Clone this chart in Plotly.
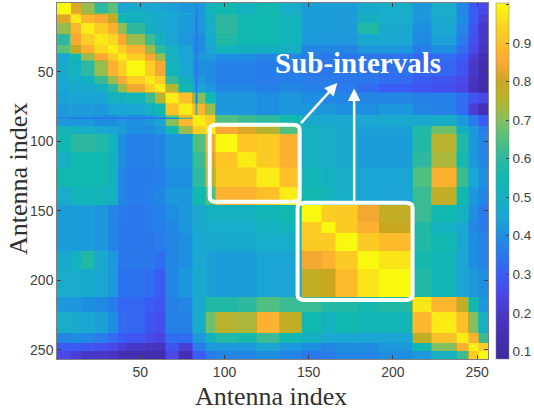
import numpy as np
import plotly.graph_objects as go

segment_ends = [8,14,22,30,36,41,52,58,64,72,80,88,94,107,118,132,145,157,165,178,191,211,222,237,244,250,256]

upper_rows = [
 [1.0,.82,.72,.6,.66,.45,.47,.46,.45,.44,.42,.42,.52,.55,.5,.55,.48,.43,.43,.43,.47,.48,.42,.48,.38,.3,.25],
 [.97,.88,.85,.8,.55,.5,.48,.47,.45,.43,.42,.5,.6,.55,.55,.52,.43,.43,.43,.5,.48,.42,.47,.4,.3,.22],
 [.98,.93,.87,.72,.6,.5,.47,.45,.43,.42,.48,.6,.55,.55,.52,.43,.43,.43,.58,.47,.4,.46,.38,.28,.2],
 [.97,.95,.85,.72,.62,.5,.45,.42,.4,.47,.58,.55,.55,.52,.42,.42,.42,.47,.46,.39,.44,.36,.27,.2],
 [.98,.93,.87,.72,.6,.5,.45,.4,.45,.52,.5,.5,.5,.38,.38,.38,.42,.42,.36,.4,.33,.25,.18],
 [.98,.93,.85,.72,.5,.45,.42,.43,.4,.4,.38,.38,.36,.35,.35,.35,.34,.32,.33,.3,.22,.15],
 [1.0,.93,.84,.52,.46,.4,.4,.37,.37,.36,.36,.35,.35,.35,.35,.34,.32,.32,.28,.2,.13],
 [.97,.93,.62,.5,.42,.4,.37,.37,.36,.37,.36,.36,.35,.35,.33,.3,.28,.25,.18,.12],
 [.98,.75,.55,.45,.42,.38,.38,.37,.38,.37,.37,.36,.33,.3,.28,.27,.24,.17,.12],
 [.98,.9,.7,.55,.42,.42,.4,.42,.4,.38,.38,.38,.38,.37,.37,.33,.28,.25],
 [.98,.88,.72,.42,.42,.4,.42,.42,.42,.4,.4,.42,.38,.37,.33,.22,.15],
 [.98,.93,.65,.62,.6,.55,.47,.47,.46,.46,.47,.47,.48,.42,.36,.3],
 [.98,.85,.82,.75,.65,.5,.48,.47,.44,.44,.58,.68,.5,.42,.36],
 [1.0,.91,.92,.87,.5,.48,.47,.43,.43,.58,.76,.58,.42,.38],
 [.98,.92,.87,.5,.48,.47,.43,.43,.6,.74,.56,.42,.38],
 [.98,.9,.53,.5,.48,.45,.45,.65,.87,.62,.45,.4],
 [.98,.55,.52,.48,.45,.45,.62,.78,.55,.42,.38],
 [1.0,.93,.92,.84,.78,.62,.55,.5,.4,.35],
 [1.0,.92,.87,.8,.58,.5,.46,.38,.36],
 [1.0,.92,.89,.58,.55,.46,.4,.38],
 [1.0,.97,.56,.53,.45,.4,.38],
 [1.0,.58,.53,.45,.42,.4],
 [.97,.88,.78,.55,.42],
 [.98,.9,.7,.5],
 [.98,.87,.62],
 [.98,.93],
 [1.0],
]

# thin stripes visible in the picture: antenna index, then its value across the first segments
stripe_83 = [.38,.34,.34,.34,.33,.34,.34,.34,.34,.38,.62]
stripe_8 = [1.0,.86,.74,.7,.7,.58,.56,.52,.5,.48,.46]

tick_vals = [50,100,150,200,250]
cbar_vals = [.1,.2,.3,.4,.5,.6,.7,.8,.9,1]
cbar_text = ["0.1","0.2","0.3","0.4","0.5","0.6","0.7","0.8","0.9","1"]

zmin, zmax = .08, 1.004
color_vals = [.08,.15,.2,.25,.3,.35,.4,.45,.5,.55,.6,.65,.7,.75,.8,.85,.9,.95,1.004]
color_hex = ["#3e2aa0","#4530b5","#4838c8","#4a48e8","#3a5cf5","#2a78ec","#1e8fe0","#1ba5d5","#15b0c0","#10b8b0",
             "#2eb8a0","#4fc080","#85c060","#b5b530","#c9a820","#fca835","#fdc028","#fbd820","#f9fb0e"]
colorscale = [[(v-zmin)/(zmax-zmin),c] for v,c in zip(color_vals,color_hex)]

n = len(segment_ends)
block = np.zeros((n,n))
for i,row in enumerate(upper_rows):
    for k,v in enumerate(row):
        block[i,i+k] = v
        block[i+k,i] = v
starts = [0]+segment_ends[:-1]
seg = np.concatenate([[i]*(e-s) for i,(s,e) in enumerate(zip(starts,segment_ends))])
z = block[np.ix_(seg,seg)]
for antenna, vals in ((83,stripe_83),(8,stripe_8)):
    for j,s in enumerate(seg):
        if s < len(vals) and j != antenna-1:
            z[antenna-1,j] = vals[s]
            z[j,antenna-1] = vals[s]
np.fill_diagonal(z,1.0)
idx = np.arange(1,257)

def rrect(x0,x1,y0,y1,rx=4,ry=3.3):
    return (f"M{x0+rx},{y0} L{x1-rx},{y0} Q{x1},{y0} {x1},{y0+ry} L{x1},{y1-ry} Q{x1},{y1} {x1-rx},{y1} "
            f"L{x0+rx},{y1} Q{x0},{y1} {x0},{y1-ry} L{x0},{y0+ry} Q{x0},{y0} {x0+rx},{y0} Z")

fig = go.Figure(go.Heatmap(x=idx,y=idx,z=z,colorscale=colorscale,zmin=zmin,zmax=zmax,zsmooth="best",
    colorbar=dict(x=1.019,xanchor="left",y=.5,yanchor="middle",len=1,thickness=13,xpad=0,ypad=0,
                  tickvals=cbar_vals,ticktext=cbar_text,ticks="inside",ticklen=3,tickwidth=.5,tickcolor="#404040",
                  outlinecolor="#808080",outlinewidth=.5,tickfont=dict(family="Liberation Sans",size=13.5,color="#404040"))))

ax = dict(ticks="inside",ticklen=4,tickwidth=.5,tickcolor="#404040",mirror="ticks",showline=True,linecolor="#808080",linewidth=.5,
          showgrid=False,zeroline=False,tickvals=tick_vals,tickfont=dict(family="Liberation Sans",size=14,color="#404040"))
title_font = dict(family="Liberation Serif",size=26,color="#303030")
fig.update_xaxes(range=[.5,256.5],**ax)
fig.update_yaxes(range=[256.5,.5],**ax)

fig.add_annotation(xref="paper",yref="paper",x=.4956,y=-.105,xanchor="center",yanchor="middle",
                   text="Antenna index",showarrow=False,font=title_font)
fig.add_annotation(xref="paper",yref="paper",x=-.0911,y=.505,xanchor="center",yanchor="middle",
                   text="Antenna index",showarrow=False,font=title_font,textangle=-90)

for b in [(91.2,144.6,88.1,143.5),(143.4,211.7,144.2,214)]:
    fig.add_shape(type="path",path=rrect(*b),line=dict(color="white",width=4),xref="x",yref="y")

fig.add_annotation(x=167,y=58,ax=144.6,ay=88,xref="x",yref="y",axref="x",ayref="y",text="",showarrow=True,
                   arrowhead=2,arrowsize=1,arrowwidth=2.5,arrowcolor="white")
fig.add_annotation(x=177,y=62,ax=177,ay=144,xref="x",yref="y",axref="x",ayref="y",text="",showarrow=True,
                   arrowhead=2,arrowsize=1,arrowwidth=2.5,arrowcolor="white")
fig.add_annotation(x=179.4,y=43.5,xref="x",yref="y",text="<b>Sub-intervals</b>",showarrow=False,
                   font=dict(family="Liberation Serif",size=29,color="white"))

fig.update_layout(width=534,height=413,margin=dict(l=57.3,r=45.5,t=3.2,b=54.4,autoexpand=False),
                  paper_bgcolor="white",plot_bgcolor="white")
fig.write_html("out.html",config={"displayModeBar":False},post_script="document.body.style.margin='0';")
